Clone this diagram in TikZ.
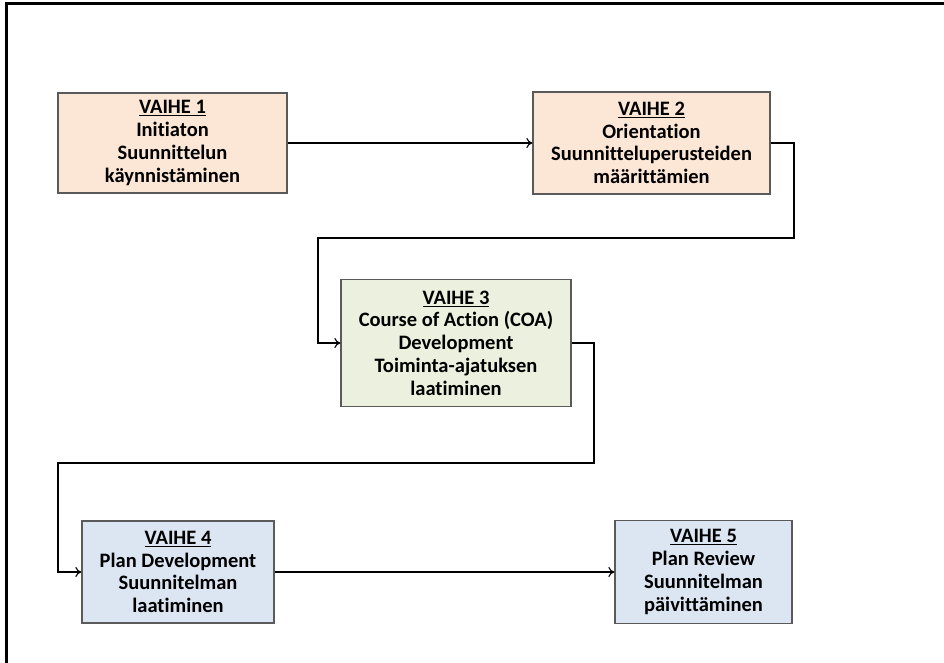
\documentclass[tikz,border=0pt]{standalone}
\usepackage{fontspec}
\setmainfont{Carlito}[Ligatures=NoCommon]
\usetikzlibrary{arrows.meta}
\definecolor{peach}{RGB}{252,230,214}
\definecolor{sage}{RGB}{235,241,222}
\definecolor{lblue}{RGB}{220,230,242}
\definecolor{bord}{RGB}{90,90,90}
\tikzset{
  stage/.style={draw=bord, line width=1.3pt, align=center, inner sep=0pt,
    font=\fontsize{20.5}{22.7}\selectfont\bfseries, text=black},
  conn/.style={line width=1.1pt, -{To[length=6pt,width=10pt]}},
  frameline/.style={line width=3pt}
}
\begin{document}
\begin{tikzpicture}[x=1pt,y=-1pt]
\useasboundingbox (0,0) rectangle (944,663);
\draw[frameline] (6,663) -- (6,4) -- (944,4);
\node[stage, fill=peach, minimum width=229pt, minimum height=100pt] (b1) at (172.5,143)
  {\underline{VAIHE 1}\\Initiaton\\Suunnittelun\\käynnistäminen};
\node[stage, fill=peach, minimum width=237pt, minimum height=102pt] (b2) at (651.5,143)
  {\underline{VAIHE 2}\\Orientation\\Suunnitteluperusteiden\\määrittämien};
\node[stage, fill=sage, minimum width=230pt, minimum height=127pt] (b3) at (456,343)
  {\underline{VAIHE 3}\\Course of Action (COA)\\Development\\Toiminta-ajatuksen\\laatiminen};
\node[stage, fill=lblue, minimum width=192pt, minimum height=102pt] (b4) at (178,572)
  {\underline{VAIHE 4}\\Plan Development\\Suunnitelman\\laatiminen};
\node[stage, fill=lblue, minimum width=177pt, minimum height=103pt] (b5) at (703.5,572)
  {\underline{VAIHE 5}\\Plan Review\\Suunnitelman\\päivittäminen};
\coordinate (c1) at (794,143);
\coordinate (c2) at (794,238);
\coordinate (c3) at (318,238);
\coordinate (d1) at (594,343);
\coordinate (d2) at (594,463);
\coordinate (d3) at (58,463);
\draw[conn] (b1.east) -- (b2.west);
\draw[conn] (b2.east) -- (c1) -- (c2) -- (c3) |- (b3.west);
\draw[conn] (b3.east) -- (d1) -- (d2) -- (d3) |- (b4.west);
\draw[conn] (b4.east) -- (b5.west);
\end{tikzpicture}
\end{document}
